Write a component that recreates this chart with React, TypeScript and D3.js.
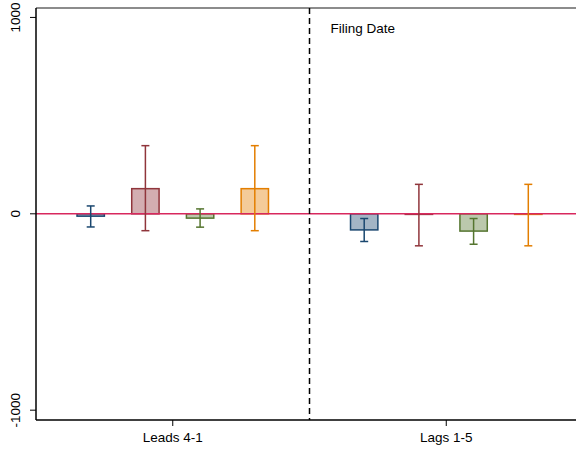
import React from "react";
import * as d3 from "d3";

const groups = ["Leads 4-1", "Lags 1-5"];
const seriesNames = ["s1", "s2", "s3", "s4"];
const seriesColors = ["#1a476f", "#90353b", "#55752f", "#e37e00"];
const leadsValues = [-12, 128, -22, 128];
const leadsLow = [-67, -86, -68, -86];
const leadsHigh = [40, 347, 25, 347];
const lagsValues = [-82, -3, -88, -3];
const lagsLow = [-141, -163, -155, -163];
const lagsHigh = [-24, 150, -24, 150];
const yTicks = [-1000, 0, 1000];
const annotation = "Filing Date";

export default function App() {
  const W = 576, H = 449;
  const left = 36, top = 8, bottom = 420, right = 583;
  const x = d3.scaleLinear().domain([-0.5, 1.5]).range([left, right]);
  const y = d3.scaleLinear().domain([-1050, 1048]).range([bottom, top]);
  const vals = [leadsValues, lagsValues];
  const lows = [leadsLow, lagsLow];
  const highs = [leadsHigh, lagsHigh];
  const step = 0.2;
  const bw = x(0.1) - x(0);
  const font = "'Liberation Sans', Arial, sans-serif";

  return (
    <svg width={W} height={H} style={{ position: "absolute", left: 0, top: 0, background: "#fff" }}>
      {/* frame */}
      <line x1={left} x2={W} y1={top} y2={top} stroke="#666" strokeWidth={1.5} />
      {/* bars */}
      {groups.map((g, gi) =>
        seriesNames.map((s, si) => {
          const cx = x(gi + (si - 1.5) * step);
          const v = vals[gi][si];
          const y0 = y(Math.max(0, v));
          const h = Math.max(Math.abs(y(v) - y(0)), 0.5);
          const c = seriesColors[si];
          return (
            <rect key={g + s} x={cx - bw / 2} y={y0} width={bw} height={h}
              fill={c} fillOpacity={0.4} stroke={c} strokeWidth={1.5} />
          );
        })
      )}
      {/* zero line */}
      <line x1={left} x2={W} y1={y(0)} y2={y(0)} stroke="#d8285e" strokeWidth={1.5} />
      {/* error bars */}
      {groups.map((g, gi) =>
        seriesNames.map((s, si) => {
          const cx = x(gi + (si - 1.5) * step);
          const c = seriesColors[si];
          return (
            <g key={g + s + "e"}>
              <line x1={cx} x2={cx} y1={y(highs[gi][si])} y2={y(lows[gi][si])} stroke={c} strokeWidth={1.5} />
              <line x1={cx - 4} x2={cx + 4} y1={y(highs[gi][si])} y2={y(highs[gi][si])} stroke={c} strokeWidth={1.5} />
              <line x1={cx - 4} x2={cx + 4} y1={y(lows[gi][si])} y2={y(lows[gi][si])} stroke={c} strokeWidth={1.5} />
            </g>
          );
        })
      )}
      {/* dashed filing line */}
      <line x1={x(0.5)} x2={x(0.5)} y1={top} y2={bottom} stroke="#000" strokeWidth={1.5} strokeDasharray="6,4" />
      <text x={x(0.5) + 21} y={33} fontFamily={font} fontSize={13.5} fill="#000">{annotation}</text>
      {/* y axis */}
      <line x1={left} x2={left} y1={top} y2={bottom} stroke="#000" strokeWidth={1.5} />
      {yTicks.map((t) => (
        <g key={t}>
          <line x1={left - 6} x2={left} y1={y(t)} y2={y(t)} stroke="#000" strokeWidth={1} />
          <text transform={`translate(${19.5},${y(t)}) rotate(-90)`} textAnchor="middle"
            fontFamily={font} fontSize={13.5} fill="#000">{t}</text>
        </g>
      ))}
      {/* x axis */}
      <line x1={left} x2={W} y1={bottom} y2={bottom} stroke="#000" strokeWidth={1.5} />
      {groups.map((g, gi) => (
        <g key={g}>
          <line x1={x(gi)} x2={x(gi)} y1={bottom} y2={bottom + 6} stroke="#000" strokeWidth={1} />
          <text x={x(gi)} y={bottom + 22} textAnchor="middle" fontFamily={font} fontSize={13.5} fill="#000">{g}</text>
        </g>
      ))}
    </svg>
  );
}
